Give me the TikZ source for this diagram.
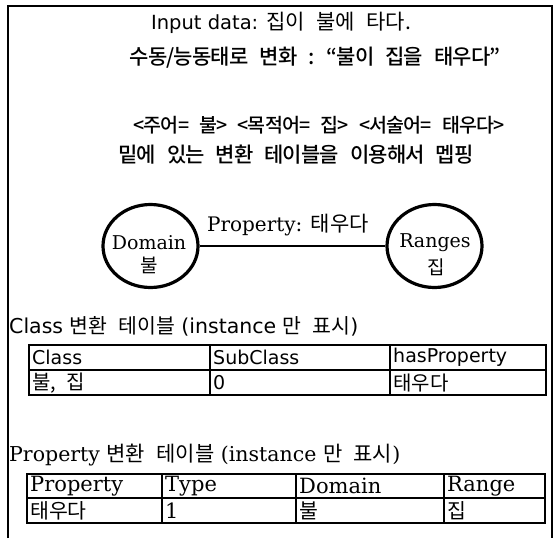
\documentclass[tikz,border=0pt]{standalone}
\usepackage{fontspec}
\setmainfont{DejaVu Serif}
\setsansfont{DejaVu Sans}
\newfontfamily\kr[WordSpace=2.4]{Noto Sans CJK KR}
\newfontfamily\krm[WordSpace=2.8,LetterSpace=-4]{Noto Sans CJK KR Medium}
\usetikzlibrary{shapes.geometric}
\newcommand\ko[1]{{\kr #1}}
\newcommand\fs[1]{\fontsize{#1}{#1}\selectfont}
\tikzset{
  tx/.style={inner sep=0pt, text=black},
  cell/.style={inner sep=0pt, anchor=west},
  ring/.style={draw, ellipse, line width=3.2pt, minimum width=95pt, minimum height=83pt, inner sep=0pt},
  frame/.style={line width=1.4pt},
  grid/.style={line width=1.1pt}
}
\begin{document}
\begin{tikzpicture}[x=1pt,y=-1pt]
\useasboundingbox (0,0) rectangle (554,538);
\fill[white] (0,0) rectangle (554,538);
% outer frame (open at the bottom)
\draw[frame] (8,538) -- (8,6) -- (552,6) -- (552,538);

% heading lines
\node[tx] (inp) at (281,23) {\fs{19.5}\sffamily Input data: \ko{\fs{21}집이 불에 타다.}};
\node[tx] (pas) at (315,58) {\fs{21}\krm 수동/능동태로 변화 : “불이 집을 태우다”};
\node[tx] (arg) at (319,125) {\fs{19.5}\krm <주어= 불> <목적어= 집> <서술어= 태우다>};
\node[tx] (map) at (296,155) {\fs{21}\krm 밑에 있는 변환 테이블을 이용해서 멥핑};

% domain -- property -- range
\node[ring] (dom) at (150.5,246) {};
\node[ring] (ran) at (434.5,246) {};
\draw[line width=2pt] (dom.east) -- (ran.west);
\node[tx] (plab) at (288,225) {\fs{20}Property: \ko{\fs{21}태우다}};
\node[tx] (domt) at (149,243) {\fs{19}Domain};
\node[tx] (domk) at (149,265) {\fs{19}\ko{불}};
\node[tx] (rant) at (435,243) {\fs{19}Ranges};
\node[tx] (rank) at (436,267) {\fs{19}\ko{집}};

% class table
\node[cell] (ctit) at (9,326) {\fs{20.5}\sffamily Class \ko{변환 테이블} (instance \ko{만 표시})};
\draw[grid] (29,345) rectangle (546,395);
\draw[grid] (29,370) -- (546,370);
\draw[grid] (210,345) -- (210,395);
\draw[grid] (390,345) -- (390,395);
\node[cell] (c11) at (32,357.5) {\fs{19}\sffamily Class};
\node[cell] (c12) at (213,357.5) {\fs{19}\sffamily SubClass};
\node[cell] (c13) at (393,357.5) {\fs{19}\sffamily hasProperty};
\node[cell] (c21) at (32,383) {\fs{20}\kr 불, 집};
\node[cell] (c22) at (213,383) {\fs{19}\sffamily 0};
\node[cell] (c23) at (393,383) {\fs{20}\kr 태우다};

% property table
\node[cell] (ptit) at (9,455) {\fs{20.5}Property \ko{\fs{21}변환 테이블} (instance \ko{\fs{21}만 표시})};
\draw[grid] (27,474) rectangle (545,523);
\draw[grid] (27,498) -- (545,498);
\draw[grid] (162,474) -- (162,523);
\draw[grid] (296,474) -- (296,523);
\draw[grid] (444,474) -- (444,523);
\node[cell] (p11) at (30,486) {\fs{21}Property};
\node[cell] (p12) at (165,486) {\fs{21}Type};
\node[cell] (p13) at (299,486) {\fs{21}Domain};
\node[cell] (p14) at (447,486) {\fs{21}Range};
\node[cell] (p21) at (30,510.5) {\fs{20.5}\kr 태우다};
\node[cell] (p22) at (165,510.5) {\fs{21}1};
\node[cell] (p23) at (299,510.5) {\fs{20.5}\kr 불};
\node[cell] (p24) at (447,510.5) {\fs{20.5}\kr 집};
\end{tikzpicture}
\end{document}
